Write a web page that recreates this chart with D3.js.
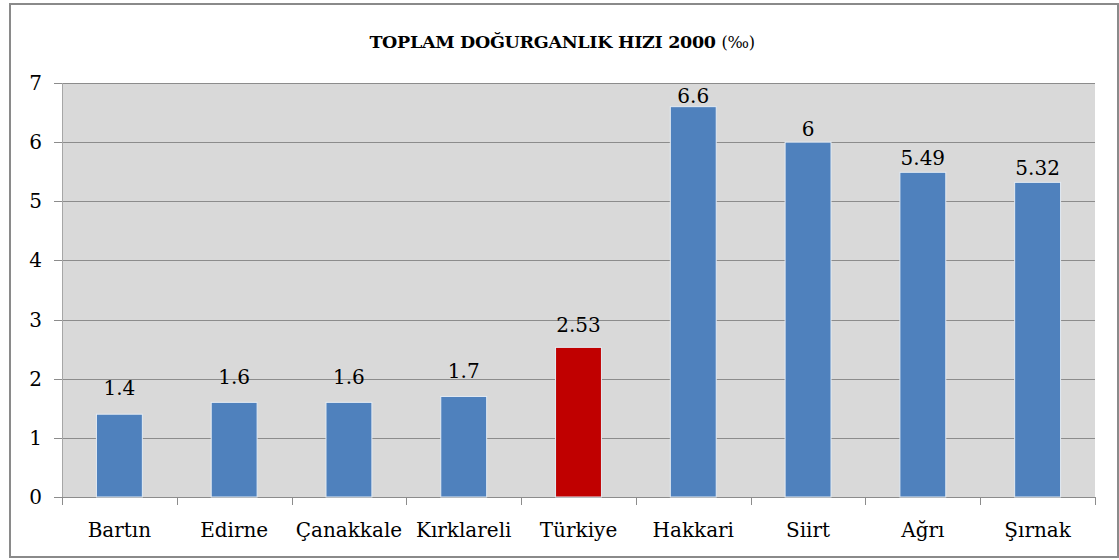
<!DOCTYPE html>
<html>
<head>
<meta charset="utf-8">
<script src="https://cdn.jsdelivr.net/npm/d3@7"></script>
<style>
  body { margin: 0; background: #fff; }
  text { font-family: "DejaVu Serif", "Liberation Serif", serif; fill: #000; }
</style>
</head>
<body>
<div id="chart"></div>
<script>
var provinces = ["Bartın", "Edirne", "Çanakkale", "Kırklareli", "Türkiye", "Hakkari", "Siirt", "Ağrı", "Şırnak"];
var fertility = [1.4, 1.6, 1.6, 1.7, 2.53, 6.6, 6, 5.49, 5.32];
var valueLabels = ["1.4", "1.6", "1.6", "1.7", "2.53", "6.6", "6", "5.49", "5.32"];
var yTicks = [0, 1, 2, 3, 4, 5, 6, 7];
var highlight = "Türkiye";

(function() {
  var W = 1119, H = 560;
  var margin = { top: 83, left: 62, right: 24, bottom: 63 },
  width = W - margin.left - margin.right,
  height = H - margin.top - margin.bottom;

  var root = d3.select("#chart").append("svg")
    .attr("width", W)
    .attr("height", H);

  // outer frame
  root.append("rect")
    .attr("x", 10).attr("y", 4)
    .attr("width", W - 11).attr("height", 553)
    .attr("fill", "#fff")
    .attr("stroke", "#8a8a8a")
    .attr("stroke-width", 2);

  var title = root.append("text")
    .attr("x", 562)
    .attr("y", 48)
    .attr("text-anchor", "middle")
    .style("font-size", "17.5px")
    .style("font-weight", "bold")
    .style("letter-spacing", "-0.3px");
  title.append("tspan").text("TOPLAM DOĞURGANLIK HIZI 2000 ");
  title.append("tspan").style("font-weight", "normal").style("font-size", "16px").text("(‰)");

  var svg = root.append("g")
    .attr("transform", "translate(" + margin.left + "," + margin.top + ")");

  var x = d3.scaleBand()
    .domain(provinces)
    .range([0, width])
    .paddingInner(0.6)
    .paddingOuter(0.3);

  var y = d3.scaleLinear()
    .domain([0, 7])
    .range([height, 0]);

  // label positions follow the original's slightly compressed placement
  var yLabel = d3.scaleLinear()
    .domain([0, 7])
    .range([height - 23, -3]);

  svg.append("rect")
    .attr("width", width)
    .attr("height", height)
    .attr("fill", "#d9d9d9");

  svg.selectAll(".grid")
    .data(yTicks)
    .enter().append("line")
    .attr("class", "grid")
    .attr("x1", -8)
    .attr("x2", width)
    .attr("y1", function(d) { return Math.round(y(d)) + 0.5; })
    .attr("y2", function(d) { return Math.round(y(d)) + 0.5; })
    .attr("stroke", "#8c8c8c")
    .attr("stroke-width", 1.2);

  svg.append("line")
    .attr("x1", 0.5).attr("x2", 0.5)
    .attr("y1", 0).attr("y2", height)
    .attr("stroke", "#a6a6a6");

  svg.selectAll(".ylab")
    .data(yTicks)
    .enter().append("text")
    .attr("class", "ylab")
    .attr("x", -20)
    .attr("y", function(d) { return y(d); })
    .attr("dy", "0.35em")
    .attr("text-anchor", "end")
    .style("font-size", "20px")
    .text(function(d) { return d; });

  // category boundary ticks
  var bounds = d3.range(provinces.length + 1).map(function(i) { return i * width / provinces.length; });
  svg.selectAll(".xtick")
    .data(bounds)
    .enter().append("line")
    .attr("class", "xtick")
    .attr("x1", function(d) { return Math.round(d) + 0.5; })
    .attr("x2", function(d) { return Math.round(d) + 0.5; })
    .attr("y1", height)
    .attr("y2", height + 8)
    .attr("stroke", "#8c8c8c");

  svg.selectAll(".bar")
    .data(provinces)
    .enter().append("rect")
    .attr("class", "bar")
    .attr("x", function(d) { return x(d); })
    .attr("width", x.bandwidth())
    .attr("y", function(d, i) { return y(fertility[i]); })
    .attr("height", function(d, i) { return height - y(fertility[i]); })
    .attr("fill", function(d) { return d === highlight ? "#c00000" : "#4f81bd"; })
    .attr("stroke", "#e4ebf3")
    .attr("stroke-width", 1);

  svg.selectAll(".vlab")
    .data(provinces)
    .enter().append("text")
    .attr("class", "vlab")
    .attr("x", function(d) { return x(d) + x.bandwidth() / 2; })
    .attr("y", function(d, i) { return yLabel(fertility[i]); })
    .attr("text-anchor", "middle")
    .style("font-size", "20px")
    .text(function(d, i) { return valueLabels[i]; });

  svg.selectAll(".xlab")
    .data(provinces)
    .enter().append("text")
    .attr("class", "xlab")
    .attr("x", function(d) { return x(d) + x.bandwidth() / 2; })
    .attr("y", height + 40)
    .attr("text-anchor", "middle")
    .style("font-size", "20px")
    .text(function(d) { return d; });
})();
</script>
</body>
</html>
